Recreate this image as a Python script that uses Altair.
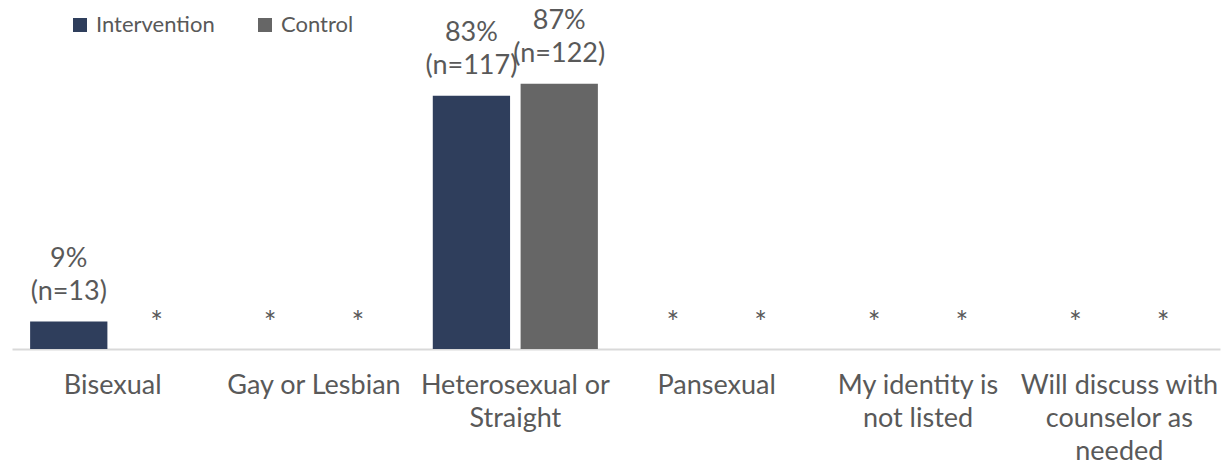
import altair as alt
import pandas as pd

# Survey responses by sexual orientation, intervention vs control
categories = [
    "Bisexual",
    "Gay or Lesbian",
    "Heterosexual or\nStraight",
    "Pansexual",
    "My identity is\nnot listed",
    "Will discuss with\ncounselor as\nneeded",
]
groups = ["Intervention", "Control"]
intervention_pct = [9, None, 83, None, None, None]
intervention_n = [13, None, 117, None, None, None]
control_pct = [None, None, 87, None, None, None]
control_n = [None, None, 122, None, None, None]
colors = ["#2F3E5C", "#666666"]

rows = []
for i, cat in enumerate(categories):
    for g, pcts, ns in (("Intervention", intervention_pct, intervention_n),
                        ("Control", control_pct, control_n)):
        p, n = pcts[i], ns[i]
        rows.append({
            "category": cat,
            "group": g,
            "pct": p if p is not None else 0,
            "label": [f"{p}%", f"(n={n})"] if p is not None else None,
            "suppressed": p is None,
        })
df = pd.DataFrame(rows)

FONT = "Lato"
TXT = "#595959"
FS = 27

x = alt.X(
    "category:N", sort=categories, title=None,
    scale=alt.Scale(paddingInner=0.18, paddingOuter=0.09),
    axis=alt.Axis(
        labelExpr="split(datum.label, '\\n')",
        labelAngle=0, labelFontSize=FS, labelFont=FONT, labelColor=TXT,
        labelLineHeight=33, labelBaseline="top", labelPadding=23,
        labelLimit=400, labelOverlap=False,
        ticks=False, domainColor="#D9D9D9", domainWidth=2,
    ),
)
xoff = alt.XOffset("group:N", sort=groups, scale=alt.Scale(paddingInner=0.12))
y = alt.Y("pct:Q", scale=alt.Scale(domain=[0, 100]), axis=None)

base = alt.Chart(df)

bars = base.transform_filter("!datum.suppressed").mark_bar().encode(
    x=x, xOffset=xoff, y=y,
    color=alt.Color(
        "group:N", sort=groups,
        scale=alt.Scale(domain=groups, range=colors),
        legend=alt.Legend(
            title=None, orient="none", legendX=57, legendY=-30,
            direction="horizontal", symbolType="square", symbolSize=196,
            symbolStrokeWidth=0, labelFont=FONT, labelFontSize=22,
            labelColor=TXT, labelOffset=5, columnPadding=39, padding=0,
        ),
    ),
)

values = base.transform_filter("!datum.suppressed").mark_text(
    font=FONT, fontSize=FS, color=TXT, baseline="alphabetic", dy=-55, lineHeight=33,
).encode(x=x, xOffset=xoff, y=y, text="label")

stars = base.transform_filter("datum.suppressed").mark_text(
    font=FONT, fontSize=30, color=TXT, baseline="alphabetic", dy=-16,
).encode(x=x, xOffset=xoff, y=y, text=alt.value("*"))

chart = alt.layer(bars, values, stars).properties(
    width=1208, height=305,
    padding={"left": 12, "top": 44, "right": 5, "bottom": 123},
    autosize=alt.AutoSizeParams(type="none"),
).configure_view(stroke=None)

chart.save("out.html", embed_options={"renderer": "svg", "actions": False})
